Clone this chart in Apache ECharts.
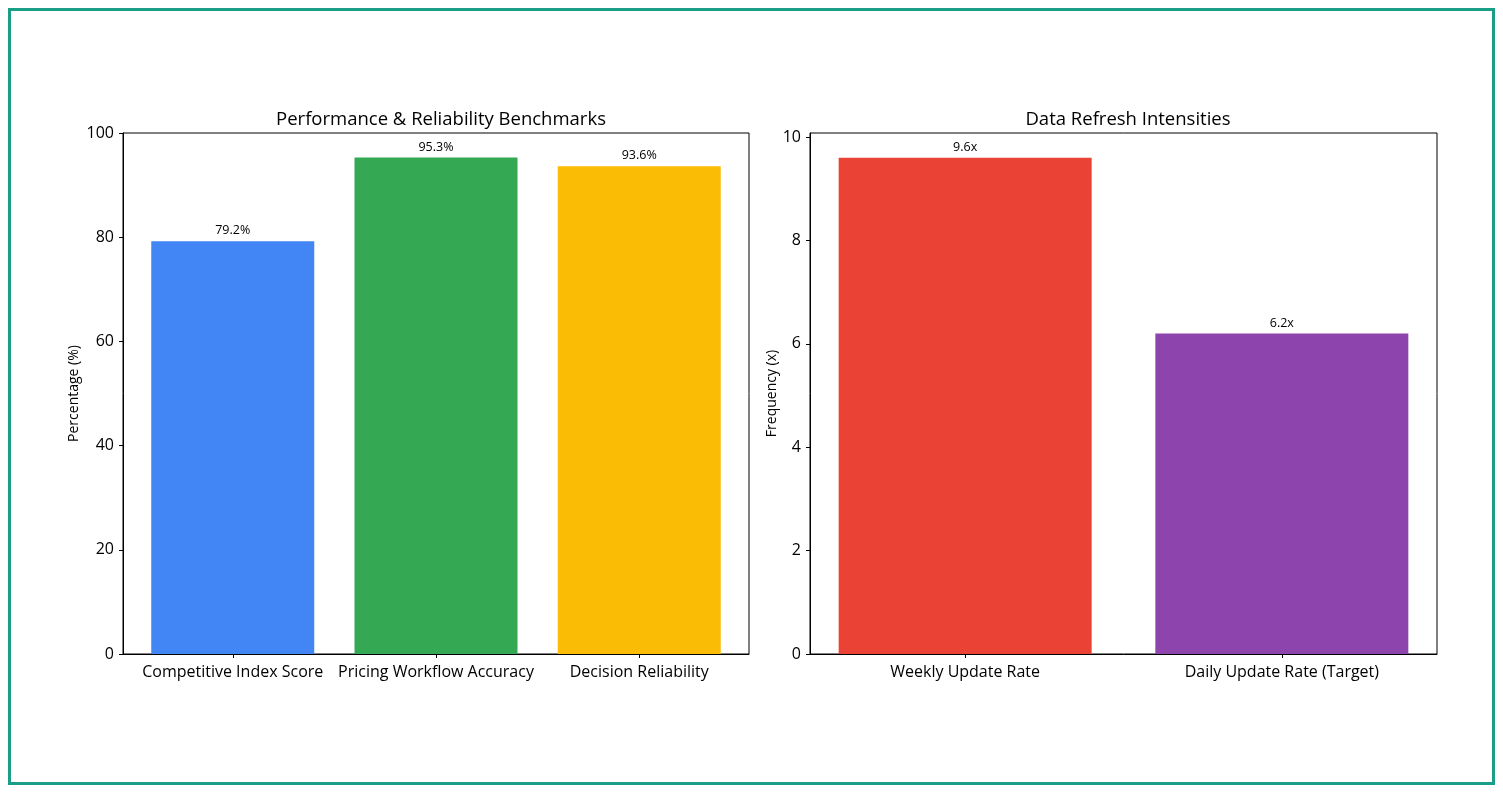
<!DOCTYPE html>
<html>
<head>
<meta charset="utf-8">
<script src="https://cdn.jsdelivr.net/npm/echarts@6/dist/echarts.min.js"></script>
<style>
  html, body { margin: 0; padding: 0; background: #fff; }
  #frame { position: absolute; left: 8px; top: 8px; width: 1481px; height: 771px; border: 3px solid #1a9e88; }
  #main { position: absolute; left: 0; top: 0; width: 1503px; height: 793px; }
</style>
</head>
<body>
<div id="frame"></div>
<div id="main"></div>
<script>
// left panel
var perfCats = ['Competitive Index Score', 'Pricing Workflow Accuracy', 'Decision Reliability'];
var perfVals = [79.2, 95.3, 93.6];
var perfColors = ['#4285F4', '#34A853', '#FBBC05'];
var perfTicks = [0, 20, 40, 60, 80, 100];

// right panel
var freqCats = ['Weekly Update Rate', 'Daily Update Rate (Target)'];
var freqVals = [9.6, 6.2];
var freqColors = ['#EA4335', '#8E44AD'];
var freqTicks = [0, 2, 4, 6, 8, 10];

var font = 'Open Sans';

function barData(vals, colors){
    var out = [];
    for (var i = 0; i < vals.length; i++) {
        out.push({ value: [i, vals[i]], itemStyle: { color: colors[i] } });
    }
    return out;
}
function idx(n){
    var a = [];
    for (var i = 0; i < n; i++) a.push(i);
    return a;
}

function xAxisFor(gi, cats){
    var pad = 0.4 + 0.05 * (cats.length - 1 + 0.8);
    return {
        type: 'value', gridIndex: gi,
        min: -pad, max: cats.length - 1 + pad,
        splitLine: { show: false },
        axisLine: { show: true, onZero: false, lineStyle: { color: '#000', width: 1 } },
        axisTick: { show: true, length: 4, customValues: idx(cats.length), lineStyle: { color: '#000' } },
        axisLabel: {
            customValues: idx(cats.length), color: '#000', fontFamily: font, fontSize: 16, margin: 10,
            formatter: function(v){ return cats[Math.round(v)]; }
        }
    };
}
function yAxisFor(gi, max, ticks, name, gap){
    return {
        type: 'value', gridIndex: gi, min: 0, max: max,
        name: name, nameLocation: 'middle', nameGap: gap,
        nameTextStyle: { color: '#000', fontFamily: font, fontSize: 14 },
        splitLine: { show: false },
        axisLine: { show: true, onZero: false, lineStyle: { color: '#000', width: 1 } },
        axisTick: { show: true, length: 4, customValues: ticks, lineStyle: { color: '#000' } },
        axisLabel: { customValues: ticks, color: '#000', fontFamily: font, fontSize: 16, margin: 9 }
    };
}

var myChart = echarts.init(document.getElementById('main'));
var option = {
    animation: false,
    title: [
        { text: 'Performance & Reliability Benchmarks', left: 436, top: 105, textAlign: 'center',
          textStyle: { fontFamily: font, fontSize: 18.5, fontWeight: 'normal', color: '#000' } },
        { text: 'Data Refresh Intensities', left: 1123, top: 105, textAlign: 'center',
          textStyle: { fontFamily: font, fontSize: 18.5, fontWeight: 'normal', color: '#000' } }
    ],
    grid: [
        { left: 123, top: 133, width: 626, height: 521, show: true, borderColor: '#000', borderWidth: 1, backgroundColor: 'transparent' },
        { left: 810, top: 133, width: 627, height: 521, show: true, borderColor: '#000', borderWidth: 1, backgroundColor: 'transparent' }
    ],
    xAxis: [ xAxisFor(0, perfCats), xAxisFor(1, freqCats) ],
    yAxis: [ yAxisFor(0, 100, perfTicks, 'Percentage (%)', 42), yAxisFor(1, 9.6 * 1.05, freqTicks, 'Frequency (x)', 29) ],
    series: [
        {
            type: 'bar', xAxisIndex: 0, yAxisIndex: 0, barWidth: 163,
            data: barData(perfVals, perfColors),
            label: { show: true, position: 'top', distance: 4, color: '#000', fontFamily: font, fontSize: 12.5,
                     formatter: function(p){ return p.value[1].toFixed(1) + '%'; } }
        },
        {
            type: 'bar', xAxisIndex: 1, yAxisIndex: 1, barWidth: 253,
            data: barData(freqVals, freqColors),
            label: { show: true, position: 'top', distance: 4, color: '#000', fontFamily: font, fontSize: 12.5,
                     formatter: function(p){ return p.value[1].toFixed(1) + 'x'; } }
        }
    ]
};
myChart.setOption(option);
</script>
</body>
</html>
